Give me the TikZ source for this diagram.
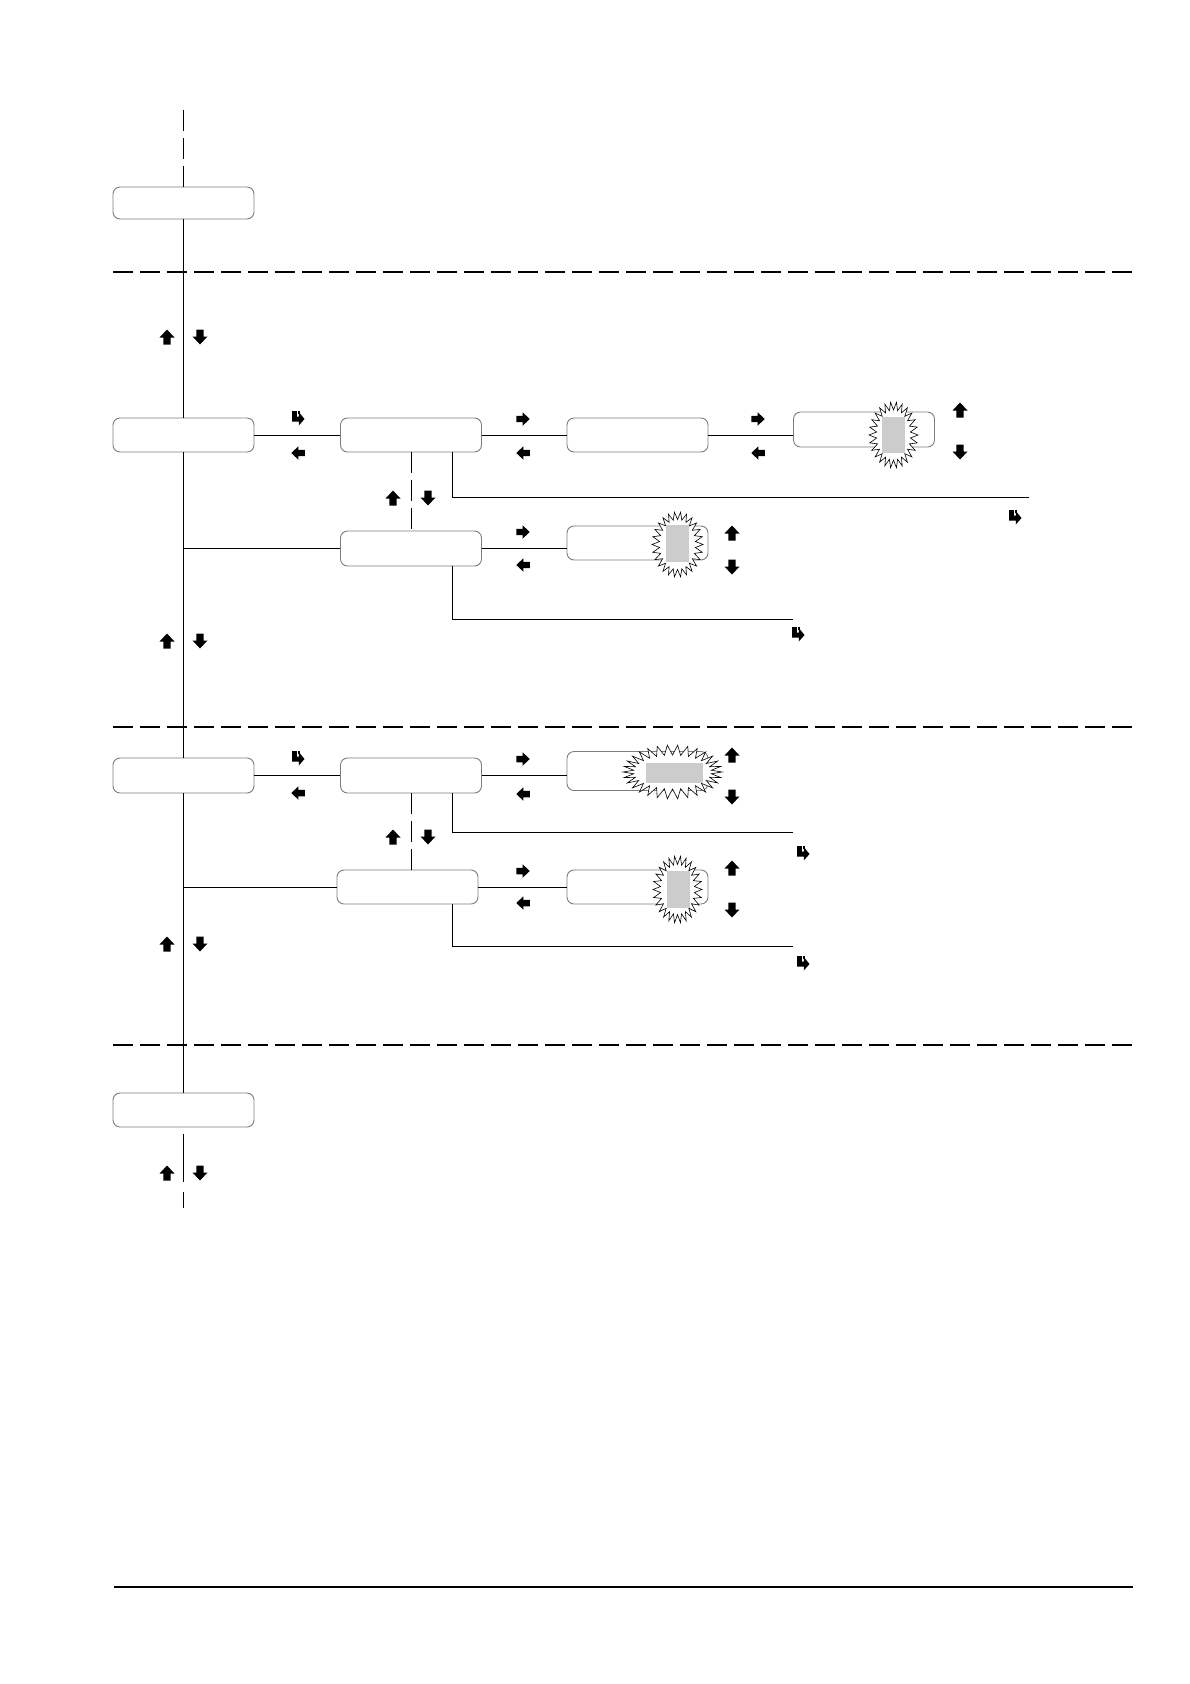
\documentclass[tikz,border=0pt]{standalone}
\usetikzlibrary{calc}
\definecolor{boxgray}{RGB}{125,125,125}
\definecolor{fillgray}{RGB}{204,204,204}
\tikzset{
  box/.style={draw=boxgray, line width=0.9pt, rounded corners=7pt, minimum width=141pt,
    minimum height=34pt, inner sep=0pt, fill=white},
  conn/.style={line width=1pt, draw=black},
  sepline/.style={line width=1.1pt, dash pattern=on 20pt off 7pt},
  vdash/.style={line width=1pt, dash pattern=on 21pt off 7pt},
  burstline/.style={draw=black, line width=0.6pt, fill=white, line join=miter},
  uparr/.pic={\fill (0,-7.5) -- (7.5,0.5) -- (3.6,0.5) -- (3.6,7.5) -- (-3.6,7.5) -- (-3.6,0.5) -- (-7.5,0.5) -- cycle;},
  hookarr/.pic={\fill (-6,-7) -- (-1.2,-7) -- (-1.2,-1.5) -- (0.8,-1.5) -- (0.8,-6) -- (6.5,1)
     -- (0.8,7.5) -- (0.8,3.5) -- (-6,3.5) -- cycle;
     \fill (-0.4,-7) rectangle (1.8,-4.5);},
  harr/.style={scale=0.9},
}
\newcommand\myburst[7]{%
  \draw[burstline,shift={(#1,#2)}] (0:#3 and #4)
    \foreach \k in {1,...,#7} { -- ({(2*\k-1)*180/#7}:#5 and #6) -- ({\k*360/#7}:#3 and #4) } -- cycle;
}
\begin{document}
\begin{tikzpicture}[x=1pt,y=-1pt]
\useasboundingbox (0,0) rectangle (1190,1684);
\fill[white] (0,0) rectangle (1190,1684);

% separators
\draw[sepline] (113,272) -- (1133,272);
\draw[sepline] (113,727) -- (1133,727);
\draw[sepline] (113,1045) -- (1133,1045);
\draw[line width=1.3pt] (114,1587) -- (1133,1587);

% boxes
\node[box, minimum height=32pt] (top) at (183.5,203) {};
\node[box] (A) at (183.5,435) {};
\node[box] (B) at (411,435) {};
\node[box, minimum height=35pt] (C) at (411,548.5) {};
\node[box] (D) at (637.5,435) {};
\node[box, minimum height=35pt] (E) at (864,429.5) {};
\node[box] (F) at (637.5,543) {};
\node[box, minimum height=35pt] (G) at (183.5,775.5) {};
\node[box, minimum height=35pt] (H) at (411,775.5) {};
\node[box] (I) at (407.5,887) {};
\node[box, minimum height=39pt] (J) at (637.5,771) {};
\node[box] (K) at (637.5,887) {};
\node[box] (L) at (183.5,1110) {};

% coordinates for free ends
\coordinate (t0) at (183.5,110);
\coordinate (e1) at (1029,497);
\coordinate (e2) at (793,619);
\coordinate (e3) at (793,832);
\coordinate (e4) at (793,946);

% main spine
\draw[vdash] (t0) -- (top.north);
\draw[conn] (top.south) -- (A.north);
\draw[conn] (A.south) -- (G.north);
\draw[conn] (G.south) -- (L.north);
\draw[conn] ($(L.south)+(0,7)$) -- ++(0,48);
\draw[conn] ($(L.south)+(0,65)$) -- ++(0,16);

% level 2
\draw[conn] (A.east) -- (B.west);
\draw[conn] (B.east) -- (D.west);
\draw[conn] (D.east) -- (D.east -| E.west);
\draw[vdash] (B.south) -- (C.north);
\draw[conn] (C.west -| A.south) -- (C.west);
\draw[conn] (C.east) -- (C.east -| F.west);
\draw[conn] ($(B.south)+(41,0)$) |- (e1);
\draw[conn] ($(C.south)+(41,0)$) |- (e2);

% level 3
\draw[conn] (G.east) -- (H.west);
\draw[conn] (H.east) -- (H.east -| J.west);
\draw[vdash] (H.south) -- (H.south |- I.north);
\draw[conn] (I.west -| G.south) -- (I.west);
\draw[conn] (I.east) -- (K.west);
\draw[conn] ($(H.south)+(41,0)$) |- (e3);
\draw[conn] ($(I.south)+(44.5,0)$) |- (e4);

% starbursts
\myburst{893.5}{435}{24.5}{33}{17}{25}{26}
\fill[fillgray] (882,417) rectangle (905,453);
\myburst{677.5}{544.5}{25.5}{32.5}{18}{25}{26}
\fill[fillgray] (666,525) rectangle (689,562);
\myburst{672.5}{772}{49.5}{27}{39}{17}{30}
\fill[fillgray] (646,763) rectangle (703,783);
\myburst{677.5}{889.5}{24.5}{33.5}{17}{25}{26}
\fill[fillgray] (667,871) rectangle (690,908);

% arrow glyphs
\foreach \y in {337,641,944,1173} {
  \pic at (167,\y) {uparr};
  \pic[rotate=180] at (200,\y) {uparr};
}
\pic at (298,418) {hookarr};
\pic[rotate=90,harr] at (298,453) {uparr};
\pic[rotate=-90,harr] at (523,419) {uparr};
\pic[rotate=90,harr] at (523,453) {uparr};
\pic[rotate=-90,harr] at (758,419) {uparr};
\pic[rotate=90,harr] at (758,453) {uparr};
\pic at (960,410) {uparr};
\pic[rotate=180] at (960,452) {uparr};
\pic at (393,498) {uparr};
\pic[rotate=180] at (428,498) {uparr};
\pic at (1015,517) {hookarr};
\pic[rotate=-90,harr] at (523,532) {uparr};
\pic[rotate=90,harr] at (523,565) {uparr};
\pic at (732,533) {uparr};
\pic[rotate=180] at (732,567) {uparr};
\pic at (798,634) {hookarr};

\pic at (298,758) {hookarr};
\pic[rotate=90,harr] at (298,793) {uparr};
\pic[rotate=-90,harr] at (523,759) {uparr};
\pic[rotate=90,harr] at (523,794) {uparr};
\pic at (732,755) {uparr};
\pic[rotate=180] at (732,797) {uparr};
\pic at (393,837) {uparr};
\pic[rotate=180] at (428,837) {uparr};
\pic at (803,853) {hookarr};
\pic[rotate=-90,harr] at (523,871) {uparr};
\pic[rotate=90,harr] at (523,903) {uparr};
\pic at (732,868) {uparr};
\pic[rotate=180] at (732,910) {uparr};
\pic at (803,963) {hookarr};
\end{tikzpicture}
\end{document}
